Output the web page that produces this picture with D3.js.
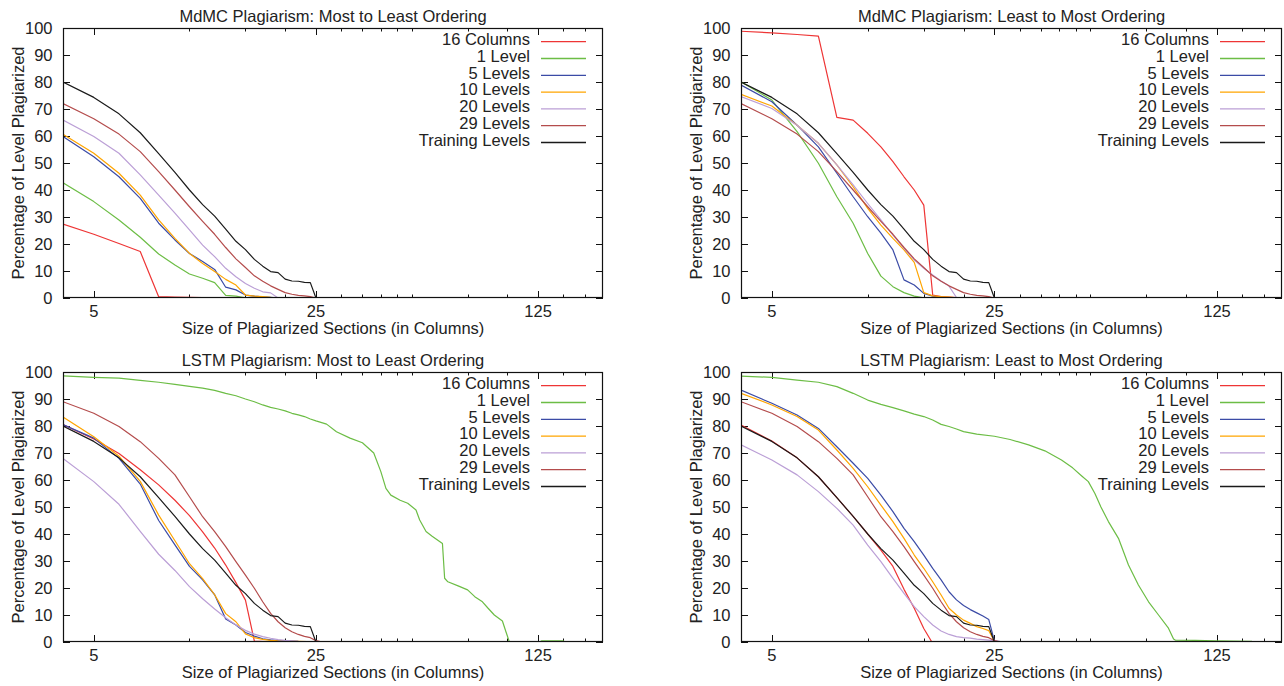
<!DOCTYPE html>
<html>
<head>
<meta charset="utf-8">
<script src="https://cdn.jsdelivr.net/npm/d3@7"></script>
<style>
  html, body { margin: 0; padding: 0; background: #fff; }
  svg { display: block; }
  text { font-family: "Liberation Sans", Arial, Helvetica, sans-serif; fill: #222; }
</style>
</head>
<body>
<svg id="chart" width="1284" height="686"></svg>
<script>
// ---------------- DATA ----------------
const seriesNames = ["16 Columns", "1 Level", "5 Levels", "10 Levels", "20 Levels", "29 Levels", "Training Levels"];
const seriesColors = ["#ee3535", "#6cbd45", "#3b4ba6", "#ffa500", "#bb9fd6", "#b44c4c", "#1a1a1a"];
const panelTitles = [
  "MdMC Plagiarism: Most to Least Ordering",
  "MdMC Plagiarism: Least to Most Ordering",
  "LSTM Plagiarism: Most to Least Ordering",
  "LSTM Plagiarism: Least to Most Ordering"
];
const xLabel = "Size of Plagiarized Sections (in Columns)";
const yLabel = "Percentage of Level Plagiarized";
const xTickMajor = [5, 25, 125];
const xTickMinor = [10, 15, 20, 30, 35, 40, 45, 50, 75, 100, 150, 175];
const yTicks = [0, 10, 20, 30, 40, 50, 60, 70, 80, 90, 100];
const xDomain = [4, 200];
const yDomain = [0, 100];

// shared curves
const trainingLevels = [[4,80],[5,74.3],[6,68.2],[7,61.2],[8,53.5],[9,46.5],[10,40],[11,34.6],[12,30.3],[13,25.5],[14,21],[15,17.9],[16,14.3],[17,11.8],[18,9.8],[19,9.4],[20,7.0],[21,6.3],[22,6.2],[23,5.8],[24,5.7],[25,0]];
const mdmc29 = [[4,72],[5,66.4],[6,60.7],[7,54.2],[8,46.8],[9,40],[10,33.8],[11,28.4],[12,23.6],[13,18.7],[14,14.5],[15,11.3],[16,8.2],[17,6.2],[18,4.5],[19,3.2],[20,2.0],[21,1.4],[22,1.0],[23,0.8],[24,0.5],[25,0]];
const lstm29 = [[4,89],[5,84.7],[6,79.8],[7,74.2],[8,68],[9,61.9],[10,53.8],[11,46.4],[12,40.9],[13,35.3],[14,29.8],[15,24.8],[16,19.9],[17,14.9],[18,10.6],[19,7.5],[20,5.3],[21,3.8],[22,2.8],[23,2.1],[24,1.6],[25,0.5],[26,0.1],[27,0]];

// MdMC most to least
const mdmcM2L_16col = [[4,27.4],[5,23.6],[6,20.2],[7,17.2],[8,0.5],[9,0.3],[10,0.2],[12,0.1],[14,0]];
const mdmcM2L_1lvl = [[4,42.7],[5,35.7],[6,28.9],[7,22.5],[8,16.3],[9,12.2],[10,8.9],[11,7.3],[12,5.7],[13,1],[14,0.7],[15,0.1],[16,0]];
const mdmcM2L_5lvl = [[4,59.8],[5,52.3],[6,44.9],[7,36.9],[8,27.7],[9,21.5],[10,16.5],[11,13.5],[12,10.6],[13,4],[14,3],[15,1.1],[16,0.7],[17,0.4],[18,0.2],[19,0]];
const mdmcM2L_10lvl = [[4,60.6],[5,53.6],[6,46.2],[7,38.1],[8,28.9],[9,22.1],[10,16.5],[11,12.8],[12,9.8],[13,6.9],[14,4.8],[15,1.1],[16,0.7],[17,0.5],[18,0.2],[19,0]];
const mdmcM2L_20lvl = [[4,65.9],[5,59.8],[6,53.6],[7,45.6],[8,38.1],[9,31.4],[10,25.2],[11,19.6],[12,15.3],[13,11],[14,7.9],[15,5.4],[16,3.6],[17,2.3],[18,1.9],[19,0]];

// MdMC least to most
const mdmcL2M_16col = [[4,98.8],[5,98.2],[6,97.6],[7,97],[8,66.9],[9,65.9],[10,61],[11,56],[12,50.5],[13,44.9],[14,40],[15,34.4],[16,1.1],[17,0.5],[18,0.3],[20,0]];
const mdmcL2M_1lvl = [[4,80.1],[5,73.3],[6,61.6],[7,49.9],[8,37.5],[9,27.7],[10,16.5],[11,8.1],[12,4.2],[13,2],[14,0.7],[15,0.1],[16,0]];
const mdmcL2M_5lvl = [[4,78.9],[5,72.7],[6,64],[7,56],[8,46.2],[9,37.5],[10,30.1],[11,24],[12,17.8],[13,6.7],[14,4.8],[15,1.7],[16,0.7],[17,0.2],[18,0]];
const mdmcL2M_10lvl = [[4,75.4],[5,71.1],[6,64],[7,57.3],[8,49.3],[9,41.2],[10,33.2],[11,27],[12,22.1],[13,17.8],[14,13.2],[15,2],[16,0.8],[17,0.5],[18,0.3],[19,0.1],[20,0]];
const mdmcL2M_20lvl = [[4,74.6],[5,70.2],[6,64],[7,57.3],[8,49.3],[9,41.9],[10,35],[11,28.9],[12,23.3],[13,18.4],[14,14.1],[15,11],[16,8.5],[17,6.3],[18,4.4],[19,0.2],[20,0]];

// LSTM most to least
const lstmM2L_16col = [[4,80.5],[5,75.2],[6,69.8],[7,63.8],[8,58.2],[9,52.5],[10,46.8],[11,40.8],[12,34.8],[13,28.5],[14,22],[15,15.5],[16,0.3],[18,0.1],[20,0]];
const lstmM2L_1lvl = [[4,98.6],[5,98],[6,97.7],[7,96.9],[8,96.2],[9,95.4],[10,94.7],[11,94],[12,93.2],[13,92.1],[14,91.2],[15,90],[16,89],[17,87.8],[18,86.9],[19,86.3],[20,85.6],[21,84.7],[22,84.1],[23,83.5],[24,82.6],[25,81.9],[27,80.7],[29,77.9],[32,75.5],[35,73.8],[38,70],[40,63.1],[41.5,56.9],[43,54.4],[46,52.5],[48.6,51.4],[51.6,48.9],[53,45.2],[55.5,40.9],[58,39.2],[62.5,36.5],[63.5,23.6],[65,22.3],[70,20.8],[75,19.3],[79,16.8],[83.5,14.9],[87,12.5],[91,10],[96.5,7.8],[99,3.8],[101.5,0],[126,0],[128,0.4],[150,0.4],[152,0]];
const lstmM2L_5lvl = [[4,80.5],[5,75.5],[6,68],[7,58.5],[8,45],[9,36],[10,28],[11,23],[12,17.5],[13,8.5],[14,6.3],[15,3.5],[16,2.2],[17,1.2],[18,0.8],[19,0.5],[20,0.4],[22,0.2],[25,0.1],[26,0]];
const lstmM2L_10lvl = [[4,83.3],[5,76],[6,68.8],[7,59.5],[8,47],[9,37.5],[10,29],[11,23.5],[12,17.5],[13,10.5],[14,7.5],[15,3],[16,1.6],[17,1],[18,0.6],[19,0.4],[20,0.3],[22,0.2],[25,0.1],[26,0]];
const lstmM2L_20lvl = [[4,68],[5,59.4],[6,51],[7,41],[8,32.5],[9,26.5],[10,20.5],[11,16],[12,12.2],[13,9],[14,6.3],[15,4.3],[16,2.9],[17,2],[18,1.4],[19,0.9],[20,0.6],[21,0.4],[22,0.2],[24,0.1],[25,0]];

// LSTM least to most
const lstmL2M_16col = [[4,80.4],[5,74.4],[6,68.2],[7,61.2],[8,53.5],[9,46.5],[10,40],[11,34],[12,28],[13,19.5],[14,12.5],[15,5],[15.9,0]];
const lstmL2M_1lvl = [[4,98.5],[5,98],[6,97],[7,96.2],[8,94.6],[9,92.1],[10,89.6],[11,88],[12,86.8],[13,85.6],[14,84.4],[15,83.5],[16,82.2],[17,80.6],[18,79.8],[19,78.9],[20,77.9],[22,77],[25,76.2],[28,75],[32,73],[36,70.8],[40.6,67.4],[44,64.5],[47,61.5],[49.3,59.4],[51.7,55],[54,50],[57,44.6],[61.3,38.4],[65.9,28.5],[70.8,21.1],[76.2,14.9],[81.9,10],[88,5.1],[91.3,1.1],[92.4,0.7],[106.8,0.6],[123.5,0.4],[161,0.2],[163,0]];
const lstmL2M_5lvl = [[4,93.3],[5,88.4],[6,84.1],[7,79.1],[8,72.3],[9,66.2],[10,60.6],[11,54.4],[12,48.3],[13,42.1],[14,37.2],[15,32.2],[16,27.3],[17,23],[18,18.6],[19,15.6],[20,13.5],[21,12],[22,10.8],[23,9.6],[24,8.3],[25,0.3],[26,0]];
const lstmL2M_10lvl = [[4,92.1],[5,87.8],[6,83.5],[7,78.5],[8,71.1],[9,64.3],[10,57.5],[11,50.7],[12,44.6],[13,38.4],[14,32.2],[15,27.3],[16,22.3],[17,17.4],[18,12.5],[19,10],[20,8.1],[21,6.9],[22,5.7],[23,5],[24,4.2],[25,0.3],[26,0]];
const lstmL2M_20lvl = [[4,73],[5,67.4],[6,61.9],[7,55.7],[8,49.5],[9,43.3],[10,35.9],[11,29.8],[12,23.6],[13,18],[14,13.1],[15,9.4],[16,6.3],[17,4.1],[18,2.8],[19,2],[20,1.6],[21,1.4],[22,1.1],[23,0.9],[24,0.7],[25,0.5],[26,0.2],[27,0]];

const panelSeries = [
  [mdmcM2L_16col, mdmcM2L_1lvl, mdmcM2L_5lvl, mdmcM2L_10lvl, mdmcM2L_20lvl, mdmc29, trainingLevels],
  [mdmcL2M_16col, mdmcL2M_1lvl, mdmcL2M_5lvl, mdmcL2M_10lvl, mdmcL2M_20lvl, mdmc29, trainingLevels],
  [lstmM2L_16col, lstmM2L_1lvl, lstmM2L_5lvl, lstmM2L_10lvl, lstmM2L_20lvl, lstm29, trainingLevels],
  [lstmL2M_16col, lstmL2M_1lvl, lstmL2M_5lvl, lstmL2M_10lvl, lstmL2M_20lvl, lstm29, trainingLevels]
];

// ---------------- LAYOUT ----------------
const panelBoxes = [
  {left: 63, right: 603, top: 28, bottom: 298},
  {left: 741, right: 1282, top: 28, bottom: 298},
  {left: 63, right: 603, top: 372, bottom: 642},
  {left: 741, right: 1282, top: 372, bottom: 642}
];
const FONT = 16.5;
const svg = d3.select("#chart");

panelBoxes.forEach((b, pi) => {
  const x = d3.scaleLog().domain(xDomain).range([b.left, b.right]);
  const y = d3.scaleLinear().domain(yDomain).range([b.bottom, b.top]);
  const g = svg.append("g");
  const w = b.right - b.left, h = b.bottom - b.top;

  const clipId = "clip" + pi;
  svg.append("clipPath").attr("id", clipId)
    .append("rect").attr("x", b.left).attr("y", b.top).attr("width", w).attr("height", h);

  // ticks (inward, mirrored)
  const tg = g.append("g").attr("stroke", "#111").attr("stroke-width", 1);
  xTickMajor.forEach(v => {
    const px = Math.round(x(v)) + 0.5;
    tg.append("line").attr("x1", px).attr("x2", px).attr("y1", b.bottom).attr("y2", b.bottom - 7);
    tg.append("line").attr("x1", px).attr("x2", px).attr("y1", b.top).attr("y2", b.top + 7);
  });
  xTickMinor.forEach(v => {
    const px = Math.round(x(v)) + 0.5;
    tg.append("line").attr("x1", px).attr("x2", px).attr("y1", b.bottom).attr("y2", b.bottom - 3.5);
    tg.append("line").attr("x1", px).attr("x2", px).attr("y1", b.top).attr("y2", b.top + 3.5);
  });
  yTicks.forEach(v => {
    const py = Math.round(y(v)) + 0.5;
    tg.append("line").attr("x1", b.left).attr("x2", b.left + 7).attr("y1", py).attr("y2", py);
    tg.append("line").attr("x1", b.right).attr("x2", b.right - 7).attr("y1", py).attr("y2", py);
  });

  // tick labels
  xTickMajor.forEach(v => {
    g.append("text").attr("x", x(v)).attr("y", b.bottom + 19)
      .attr("text-anchor", "middle").attr("font-size", FONT).text(v);
  });
  yTicks.forEach(v => {
    g.append("text").attr("x", b.left - 10.5).attr("y", y(v)).attr("dy", "0.36em")
      .attr("text-anchor", "end").attr("font-size", FONT).text(v);
  });

  // curves
  const line = d3.line().x(d => x(d[0])).y(d => y(d[1]));
  const cg = g.append("g").attr("clip-path", `url(#${clipId})`);
  panelSeries[pi].forEach((data, si) => {
    cg.append("path").datum(data).attr("d", line)
      .attr("fill", "none").attr("stroke", seriesColors[si])
      .attr("stroke-width", 1.2).attr("stroke-linejoin", "round");
  });

  // border
  g.append("rect").attr("x", b.left + 0.5).attr("y", b.top + 0.5)
    .attr("width", w - 1).attr("height", h - 1)
    .attr("fill", "none").attr("stroke", "#111").attr("stroke-width", 1.2);

  // legend
  const lg = g.append("g");
  seriesNames.forEach((name, si) => {
    const ly = b.top + 13.7 + si * 16.8;
    lg.append("text").attr("x", b.right - 73).attr("y", ly + 3.2)
      .attr("text-anchor", "end").attr("font-size", FONT).text(name);
    lg.append("line").attr("x1", b.right - 62).attr("x2", b.right - 17)
      .attr("y1", ly).attr("y2", ly)
      .attr("stroke", seriesColors[si]).attr("stroke-width", 1.3);
  });

  // titles and axis labels
  g.append("text").attr("x", (b.left + b.right) / 2).attr("y", b.top - 6.3)
    .attr("text-anchor", "middle").attr("font-size", FONT).text(panelTitles[pi]);
  g.append("text").attr("x", (b.left + b.right) / 2).attr("y", b.bottom + 36)
    .attr("text-anchor", "middle").attr("font-size", FONT).text(xLabel);
  g.append("text")
    .attr("transform", `translate(${b.left - 39.5},${(b.top + b.bottom) / 2}) rotate(-90)`)
    .attr("text-anchor", "middle").attr("font-size", FONT).text(yLabel);
});
</script>
</body>
</html>
